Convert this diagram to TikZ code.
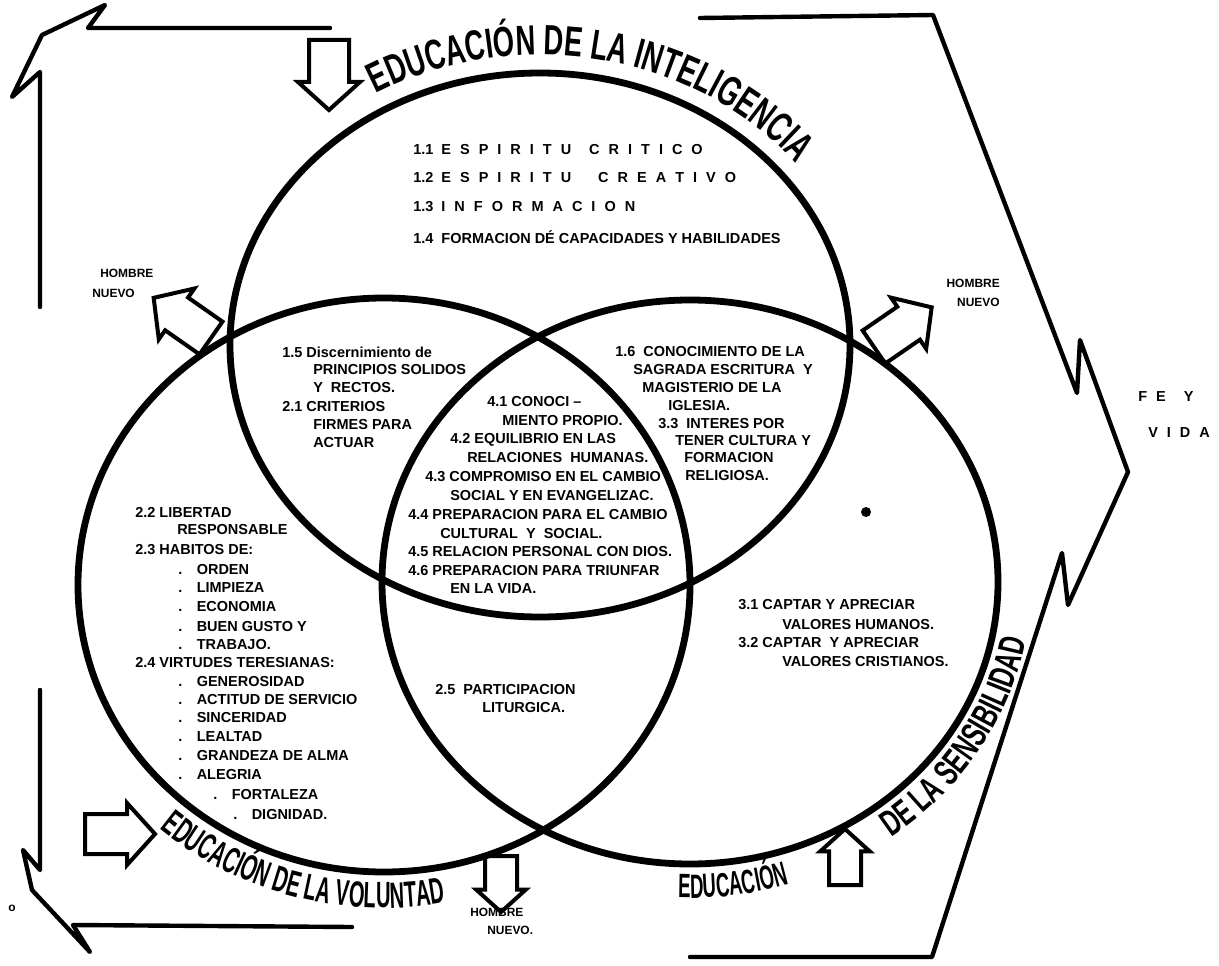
\documentclass[tikz,border=0pt]{standalone}
\usepackage{fontspec}
\setmainfont{Liberation Sans}
\newfontfamily\handfont[FakeStretch=0.65]{Liberation Sans}
\newfontfamily\handnarrow[FakeStretch=0.55]{Liberation Sans}
\usetikzlibrary{decorations.text}
\newcommand\bodyfont{\fontsize{10.3}{12}\selectfont\bfseries}
\newcommand\tagfont{\fontsize{8.5}{10}\selectfont\bfseries}
\newcommand\handsize[1]{\handfont\bfseries\fontsize{#1}{#1}\selectfont}
\newcommand\handslim[1]{\handnarrow\bfseries\fontsize{#1}{#1}\selectfont}
\newcommand\spaced[1]{{\spaceskip=2.25mm\relax #1}}
\tikzset{
  hollow/.style={line width=1mm, line join=miter},
  blockarrow/.pic={\draw[hollow] (0,-20) -- (42,-20) -- (42,-31) -- (70,0)
      -- (42,31) -- (42,20) -- (0,20) -- cycle;}
}

\begin{document}
\begin{tikzpicture}[x=0.25mm, y=0.25mm,
    every node/.style={font=\bodyfont, inner sep=0pt},
    ring/.style={line width=1.7mm},
    frame/.style={line width=1.1mm, line cap=round, line join=round},
    line/.style={anchor=west},
    tag/.style={font=\tagfont}]
\useasboundingbox (0,0) rectangle (1219,-966);

% los tres circulos
\coordinate (ctop) at (540,-345);
\coordinate (cleft) at (384,-585);
\coordinate (cright) at (690,-582);
\draw[ring] (ctop) ellipse [x radius=310, y radius=272];
\draw[ring] (cleft) ellipse [x radius=306, y radius=287];
\draw[ring] (cright) ellipse [x radius=308, y radius=282];

% marcos exteriores
\draw[frame] (330,-28) -- (88,-28) -- (105,-5) -- (42,-35) -- (12,-97)
    -- (40,-72) -- (40,-307);
\draw[frame] (40,-690) -- (40,-870) -- (23,-850) -- (32,-890) -- (90,-952)
    -- (73,-925) -- (352,-927);
\draw[frame] (700,-18) -- (933,-15) -- (1077,-393) -- (1080,-340)
    -- (1128,-472) -- (1068,-605) -- (1062,-553) -- (932,-957) -- (690,-957);

% flechas huecas
\pic[rotate=-90] at (329,-40) {blockarrow};
\pic[rotate=145] at (211,-338) {blockarrow};
\pic[rotate=34.5] at (874,-347) {blockarrow};
\pic at (85,-834) {blockarrow};
\pic[rotate=-90, scale=0.8] at (501,-856) {blockarrow};
\pic[rotate=90, scale=0.8] at (845,-885) {blockarrow};

% rotulos manuscritos
\path (ctop) ++(120:328 and 290) coordinate (toplbl);
\path[decorate, decoration={text along path,
    text={|\handsize{30}|EDUCACIÓN DE LA INTELIGENCIA}}]
    (toplbl) arc[start angle=120, end angle=5, x radius=328, y radius=290];
\path (cleft) ++(229:342 and 323) coordinate (leftlbl);
\path[decorate, decoration={text along path,
    text={|\handslim{26}|EDUCACIÓN DE LA VOLUNTAD}}]
    (leftlbl) arc[start angle=229, end angle=300, x radius=342, y radius=323];
\path (cright) ++(268:342 and 316) coordinate (rightlbl);
\path[decorate, decoration={text along path,
    text={|\handslim{24}|EDUCACIÓN}}]
    (rightlbl) arc[start angle=268, end angle=297, x radius=342, y radius=316];
\path (cright) ++(306:342 and 316) coordinate (senslbl);
\path[decorate, decoration={text along path,
    text={|\handsize{26}|DE LA SENSIBILIDAD}}]
    (senslbl) arc[start angle=306, end angle=370, x radius=342, y radius=316];

% educacion de la inteligencia
\node[line] (intel1) at (413,-150) {1.1\ \ \spaced{E S P I R I T U\ \ C R I T I C O}};
\node[line] (intel2) at (413,-178) {1.2\ \ \spaced{E S P I R I T U\ \ \ C R E A T I V O}};
\node[line] (intel3) at (413,-207) {1.3\ \ \spaced{I N F O R M A C I O N}};
\node[line] (intel4) at (413,-237) {1.4\ \ FORMACION DÉ CAPACIDADES Y HABILIDADES};

% interseccion inteligencia / voluntad
\foreach \x/\y/\s [count=\i] in {282/352/{1.5 Discernimiento de},
    313/370/{PRINCIPIOS SOLIDOS}, 313/388/{Y\ \ RECTOS.},
    282/407/{2.1 CRITERIOS}, 313/425/{FIRMES PARA}, 313/443/{ACTUAR}}
  \node[line] (disc\i) at (\x,-\y) {\s};

% interseccion inteligencia / sensibilidad
\foreach \x/\y/\s [count=\i] in {615/352/{1.6\ \ CONOCIMIENTO DE LA},
    633/370/{SAGRADA ESCRITURA\ \ Y}, 642/388/{MAGISTERIO DE LA},
    668/406/{IGLESIA.}, 658/424/{3.3\ \ INTERES POR},
    675/441/{TENER CULTURA Y}, 684/458/{FORMACION}, 685/476/{RELIGIOSA.}}
  \node[line] (conoc\i) at (\x,-\y) {\s};

% centro
\foreach \x/\y/\s [count=\i] in {487/402/{4.1 CONOCI --},
    502/421/{MIENTO PROPIO.}, 450/440/{4.2 EQUILIBRIO EN LAS},
    467/458/{RELACIONES\ \ HUMANAS.}, 425/477/{4.3 COMPROMISO EN EL CAMBIO},
    450/496/{SOCIAL Y EN EVANGELIZAC.}, 408/515/{4.4 PREPARACION PARA EL CAMBIO},
    440/534/{CULTURAL\ \ Y\ \ SOCIAL.}, 408/552/{4.5 RELACION PERSONAL CON DIOS.},
    408/571/{4.6 PREPARACION PARA TRIUNFAR}, 450/589/{EN LA VIDA.}}
  \node[line] (centre\i) at (\x,-\y) {\s};

% educacion de la voluntad
\foreach \x/\y/\s [count=\i] in {135/512/{2.2 LIBERTAD},
    177/530/{RESPONSABLE}, 135/550/{2.3 HABITOS DE:},
    178/570/{.\quad ORDEN}, 178/588/{.\quad LIMPIEZA},
    178/607/{.\quad ECONOMIA}, 178/627/{.\quad BUEN GUSTO Y},
    178/645/{.\quad TRABAJO.}, 135/663/{2.4 VIRTUDES TERESIANAS:},
    178/682/{.\quad GENEROSIDAD}, 178/700/{.\quad ACTITUD DE SERVICIO},
    178/718/{.\quad SINCERIDAD}, 178/737/{.\quad LEALTAD},
    178/756/{.\quad GRANDEZA DE ALMA}, 178/775/{.\quad ALEGRIA},
    213/795/{.\quad FORTALEZA}, 233/815/{.\quad DIGNIDAD.}}
  \node[line] (volun\i) at (\x,-\y) {\s};

% educacion de la sensibilidad
\foreach \x/\y/\s [count=\i] in {738/605/{3.1 CAPTAR Y APRECIAR},
    782/625/{VALORES HUMANOS.}, 738/643/{3.2 CAPTAR\ \ Y APRECIAR},
    782/662/{VALORES CRISTIANOS.}}
  \node[line] (sens\i) at (\x,-\y) {\s};

% interseccion voluntad / sensibilidad
\node[line] (litur1) at (435,-690) {2.5\ \ PARTICIPACION};
\node[line] (litur2) at (482,-708) {LITURGICA.};

% hombre nuevo
\node[tag, anchor=west] (newl1) at (100,-273) {HOMBRE};
\node[tag, anchor=west] (newl2) at (92,-293) {NUEVO};
\node[tag, anchor=east] (newr1) at (1000,-283) {HOMBRE};
\node[tag, anchor=east] (newr2) at (1000,-302) {NUEVO};
\node[tag, anchor=west] (newb1) at (470,-912) {HOMBRE};
\node[tag, anchor=west] (newb2) at (487,-930) {NUEVO.};

% fe y vida
\node[line] (fe) at (1138,-397) {\spaced{F E\ \ Y}};
\node[line] (vida) at (1148,-433) {\spaced{V I D A}};

% marcas sueltas
\node[tag] (mark) at (12,-908) {o};
\fill (866,-512) circle[radius=5];
\end{tikzpicture}
\end{document}
